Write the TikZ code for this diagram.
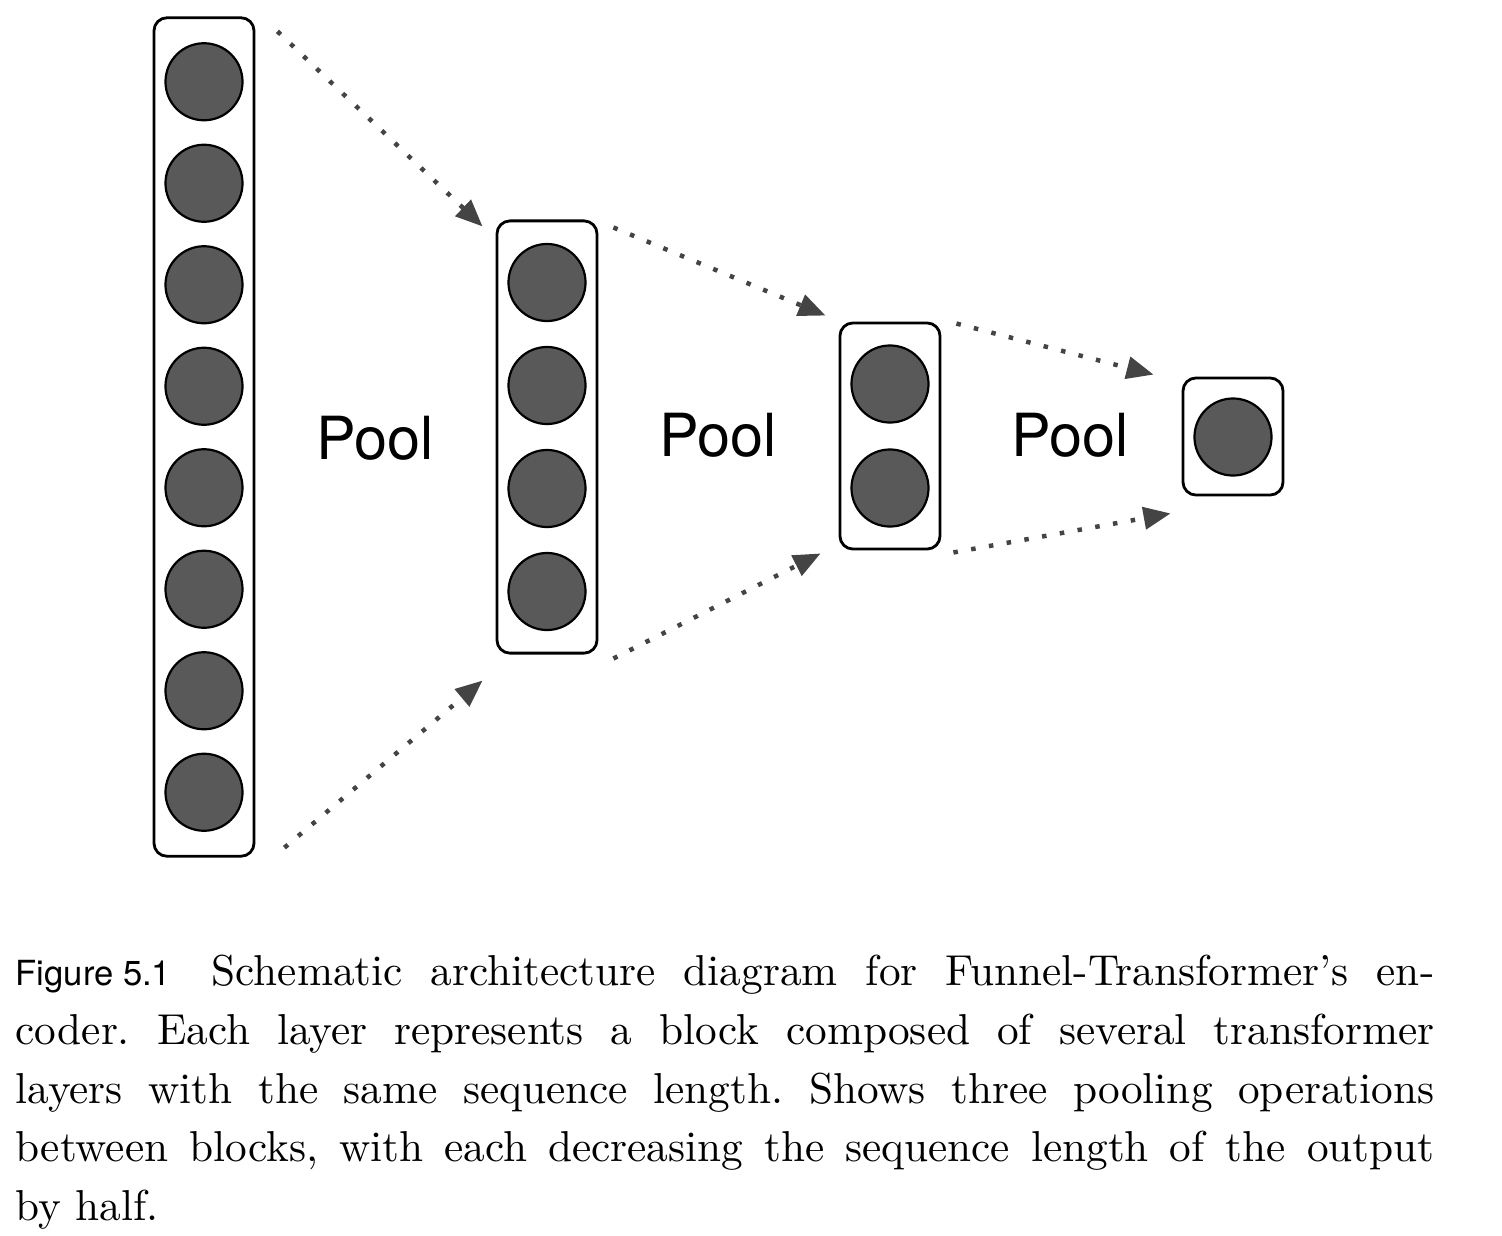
\documentclass[tikz,border=0pt]{standalone}
\usepackage{fontspec}
\usepackage{graphicx}
\newfontfamily\helv{TeX Gyre Heros}
\usetikzlibrary{arrows.meta}
\definecolor{dotc}{HTML}{444444}
\definecolor{ballc}{HTML}{595959}
\frenchspacing
\newcommand{\capln}[1]{\scalebox{1.23}{\makebox[11.528cm][s]{#1}}}
\begin{document}
\begin{tikzpicture}[x=0.01cm,y=-0.01cm,
 blockbox/.style={draw=black, line width=0.028cm, rounded corners=0.13cm, minimum width=1cm, inner sep=0},
 ball/.style={circle, draw=black, line width=0.022cm, fill=ballc, minimum size=0.77cm, inner sep=0},
 poolarrow/.style={draw=dotc, line width=0.045cm, dash pattern=on 0.045cm off 0.135cm, -{Triangle[length=0.27cm,width=0.22cm]}},
 poollabel/.style={font=\helv\fontsize{16.9}{20}\selectfont, anchor=base, inner sep=0},
 capline/.style={anchor=base west, inner sep=0, font=\fontsize{10}{12}\selectfont\frenchspacing}]
\useasboundingbox (0,0) rectangle (1502,1236);

% blocks
\node[blockbox, minimum height=8.38cm] (b1) at (204,437) {};
\node[blockbox, minimum height=4.32cm] (b2) at (547,437) {};
\node[blockbox, minimum height=2.26cm] (b3) at (890,436) {};
\node[blockbox, minimum height=1.17cm] (b4) at (1233,436.5) {};

% balls
\foreach \i in {0,...,7} \node[ball] (c1-\i) at (204,{437+(\i-3.5)*101.5}) {};
\foreach \i in {0,...,3} \node[ball] (c2-\i) at (547,{437+(\i-1.5)*103}) {};
\foreach \i in {0,1} \node[ball] (c3-\i) at (890,{436+(\i-0.5)*104}) {};
\node[ball] (c4-0) at (1233,437) {};

% labels
\node[poollabel] (p1) at (375,459) {Pool};
\node[poollabel] (p2) at (718,456) {Pool};
\node[poollabel] (p3) at (1070,456) {Pool};

% arrows
\draw[poolarrow] ([shift={(22,15)}]b1.north east) -- ([shift={(-13,7)}]b2.north west);
\draw[poolarrow] ([shift={(29,-10)}]b1.south east) -- ([shift={(-13,26)}]b2.south west);
\draw[poolarrow] ([shift={(15,8)}]b2.north east) -- ([shift={(-13,-6)}]b3.north west);
\draw[poolarrow] ([shift={(15,4)}]b2.south east) -- ([shift={(-18,3)}]b3.south west);
\draw[poolarrow] ([shift={(15,2)}]b3.north east) -- ([shift={(-28,-2)}]b4.north west);
\draw[poolarrow] ([shift={(12,2)}]b3.south east) -- ([shift={(-11,17)}]b4.south west);

% caption
\node[capline] (cap1) at (15,985) {\capln{\mbox{\helv\fontsize{8}{10}\selectfont Figure 5.1}\hspace{0.33cm}Schematic architecture diagram for Funnel-Transformer's en-}};
\node[capline] (cap2) at (15,1044) {\capln{coder. Each layer represents a block composed of several transformer}};
\node[capline] (cap3) at (15,1103) {\capln{layers with the same sequence length. Shows three pooling operations}};
\node[capline] (cap4) at (15,1161) {\capln{between blocks, with each decreasing the sequence length of the output}};
\node[capline] (cap5) at (15,1220) {\scalebox{1.23}{by half.}};
\end{tikzpicture}
\end{document}
